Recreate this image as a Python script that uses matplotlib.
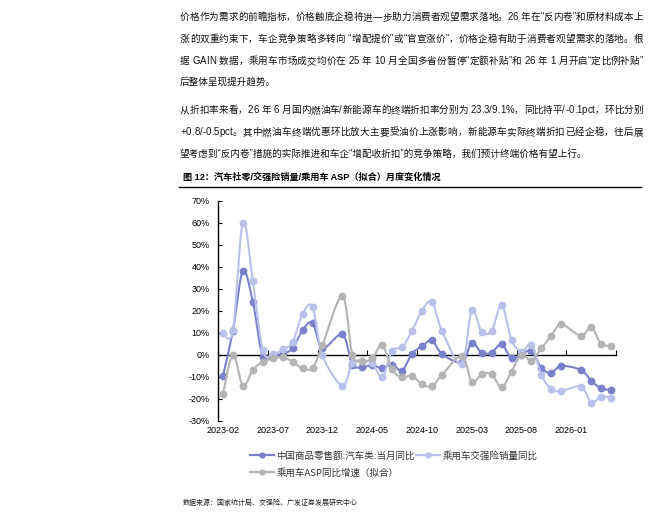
import numpy as np
import pandas as pd
import matplotlib
matplotlib.use('Agg')
from matplotlib import pyplot as plt
from matplotlib.lines import Line2D

plt.rcParams['font.family'] = ['Liberation Sans', 'Noto Sans CJK SC', 'DejaVu Sans']

nan = np.nan
W, H = 671, 518

# 月份（1 月数据与 2 月合并发布，故缺失）
months = [d.strftime('%Y-%m') for d in pd.date_range('2023-02-01', periods=40, freq='MS')]
tick_labels = ['2023-02', '2023-07', '2023-12', '2024-05', '2024-10', '2025-03', '2025-08', '2026-01']

retail_auto = [-9.6, 11, 38, 24, -0.9, -0.5, 0.5, 2.9, 11.2, 14.5, 3, nan,
               9.2, -4.5, -5.6, -4.8, -6.2, -4.5, -7.2, 0.5, 3.8, 6.5, 0.4, nan,
               -3.5, 5.5, 0.8, 1, 4.7, -1.7, 0, 1.8, -6.2, -8.2, -5.1, nan,
               -7, -11.8, -15.3, -16]
insurance_sales = [9.9, 11.2, 60, 33.5, 2, 0.2, 2.4, 5.8, 18.5, 21.7, -0.3, nan,
                   -14, -3.6, -3, -3.6, -10.3, 1.8, 3.3, 10.9, 20, 24.1, 11, nan,
                   -4.3, 20.3, 10.3, 10.9, 22.6, 6.7, 1.4, 4.4, -9.2, -15.7, -16.5, nan,
                   -14.5, -21.8, -19.1, -19.5]
asp_fit = [-17.9, 0, -14.1, -7, -3.2, -1.7, -1.2, -3.2, -6.2, -6, 4.4, nan,
           26.5, 0, -2.8, -1.7, 4.4, -6.7, -10.3, -9.5, -13.5, -14.2, -9.2, nan,
           -0.6, -12.3, -8.9, -8.9, -14.8, -7.7, -0.1, -2.7, 2.9, 8.5, 13.8, nan,
           8.5, 12.7, 4.9, 4.1]

names = ['中国商品零售额:汽车类:当月同比', '乘用车交强险销量同比', '乘用车ASP同比增速（拟合）']
colors = ['#7b80cb', '#b9c1ea', '#b4b4b4']

# 正文：(行中心 y, 文本, 是否两端对齐)
body = [
    (17, '价格作为需求的前瞻指标，价格触底企稳将进一步助力消费者观望需求落地。26 年在“反内卷”和原材料成本上', True),
    (39, '涨的双重约束下，车企竞争策略多转向 “增配提价”或“官宣涨价”，价格企稳有助于消费者观望需求的落地。根', True),
    (61, '据 GAIN 数据，乘用车市场成交均价在 25 年 10 月全国多省份暂停“定额补贴”和 26 年 1 月开启“定比例补贴”', True),
    (82, '后整体呈现提升趋势。', False),
    (110, '从折扣率来看，26 年 6 月国内燃油车/新能源车的终端折扣率分别为 23.3/9.1%，同比持平/-0.1pct，环比分别', True),
    (132, '+0.8/-0.5pct。其中燃油车终端优惠环比放大主要受油价上涨影响，新能源车实际终端折扣已经企稳，往后展', True),
    (154, '望考虑到“反内卷”措施的实际推进和车企“增配收折扣”的竞争策略，我们预计终端价格有望上行。', False),
]


def smooth(x, y, n=16):
    # 平滑曲线（类似 Excel 的平滑线），跳过缺失值
    ok = ~np.isnan(y)
    px, py = x[ok], y[ok]
    sx, sy = [px[0]], [py[0]]
    t = np.linspace(0, 1, n)[1:]
    for k in range(len(px) - 1):
        a = k - 1 if k > 0 else k
        b = k + 2 if k + 2 < len(px) else k + 1
        c1x = px[k] + (px[k + 1] - px[a]) / 6
        c1y = py[k] + (py[k + 1] - py[a]) / 6
        c2x = px[k + 1] - (px[b] - px[k]) / 6
        c2y = py[k + 1] - (py[b] - py[k]) / 6
        bx = (1 - t) ** 3 * px[k] + 3 * (1 - t) ** 2 * t * c1x + 3 * (1 - t) * t ** 2 * c2x + t ** 3 * px[k + 1]
        by = (1 - t) ** 3 * py[k] + 3 * (1 - t) ** 2 * t * c1y + 3 * (1 - t) * t ** 2 * c2y + t ** 3 * py[k + 1]
        sx.extend(bx)
        sy.extend(by)
    return np.array(sx), np.array(sy)


def put_line(fig, renderer, x0, y, s, width=None, **kw):
    if width is None:
        fig.text(x0 / W, 1 - y / H, s, va='center', ha='left', **kw)
        return
    # 两端对齐：逐字排布并均分多余宽度
    probe = fig.text(0, 0, 'x', **kw)

    def w(t):
        probe.set_text(t)
        return probe.get_window_extent(renderer).width

    base = w('xx')
    adv = [w('x' + c + 'x') - base for c in s]
    probe.remove()
    extra = (width - sum(adv)) / (len(s) - 1)
    pos = x0
    for c, a in zip(s, adv):
        if c != ' ':
            fig.text(pos / W, 1 - y / H, c, va='center', ha='left', **kw)
        pos += a + extra


def main():
    fig = plt.figure(figsize=(6.71, 5.18), dpi=100)
    renderer = fig.canvas.get_renderer()

    for y, s, just in body:
        put_line(fig, renderer, 180, y, s, 463 if just else None, fontsize=6.9, color='#111111')

    fig.text(183 / W, 1 - 177 / H, '图 12：汽车社零/交强险销量/乘用车 ASP（拟合）月度变化情况',
             fontsize=6.6, fontweight='bold', va='center', ha='left')
    fig.add_artist(Line2D([179 / W, 641 / W], [1 - 187 / H, 1 - 187 / H],
                          transform=fig.transFigure, color='black', lw=1))

    ax = fig.add_axes([218 / W, 1 - 420.7 / H, 398 / W, 220 / H])
    x = np.arange(len(months))

    handles = []
    for k, (vals, c) in enumerate(zip([retail_auto, insurance_sales, asp_fit], colors)):
        y = np.array(vals, dtype=float)
        sx, sy = smooth(x.astype(float), y)
        ax.plot(sx, sy, color=c, lw=1.5, zorder=2 + k, solid_capstyle='round')
        ax.plot(x, y, 'o', color=c, ms=4.6, zorder=2 + k)
        handles.append(Line2D([], [], color=c, lw=1.6, marker='o', ms=3.5))

    ax.set_xlim(-0.5, len(months) - 0.5)
    ax.set_ylim(-30, 70)
    ax.spines['top'].set_visible(False)
    ax.spines['right'].set_visible(False)
    ax.spines['bottom'].set_position(('data', 0))
    ax.spines['bottom'].set_zorder(1)
    ax.spines['left'].set_linewidth(1)
    ax.spines['bottom'].set_linewidth(1)

    ax.set_xticks(np.arange(-0.5, len(months), 5))
    ax.tick_params(axis='x', direction='in', length=3.5, labelbottom=False)
    ax.set_yticks(range(-30, 71, 10))
    ax.set_yticklabels([f'{v}%' for v in range(-30, 71, 10)])
    ax.tick_params(axis='y', direction='in', length=3, labelsize=6.5, pad=6)

    sec = ax.secondary_xaxis('bottom')
    sec.set_xticks([months.index(m) for m in tick_labels])
    sec.set_xticklabels(tick_labels)
    sec.tick_params(length=0, labelsize=6.5, pad=4)
    sec.spines['bottom'].set_visible(False)

    # 图例（按行排列）
    order = [0, 2, 1]
    leg = fig.legend([handles[i] for i in order], [names[i] for i in order],
                     ncol=2, loc='upper left', bbox_to_anchor=(250 / W, 1 - 451 / H),
                     frameon=False, handlelength=2.5, handletextpad=0.3,
                     columnspacing=0.15, labelspacing=0.75, borderpad=0, borderaxespad=0,
                     prop={'family': ['Noto Sans CJK SC', 'DejaVu Sans'], 'size': 6.8})
    for t in leg.get_texts():
        t.set_color('#333333')

    fig.text(183 / W, 1 - 503 / H, '数据来源：国家统计局、交强险、广发证券发展研究中心',
             fontsize=5, va='center', ha='left', color='#222222')

    fig.savefig('out.png', dpi=100)


if __name__ == '__main__':
    main()
